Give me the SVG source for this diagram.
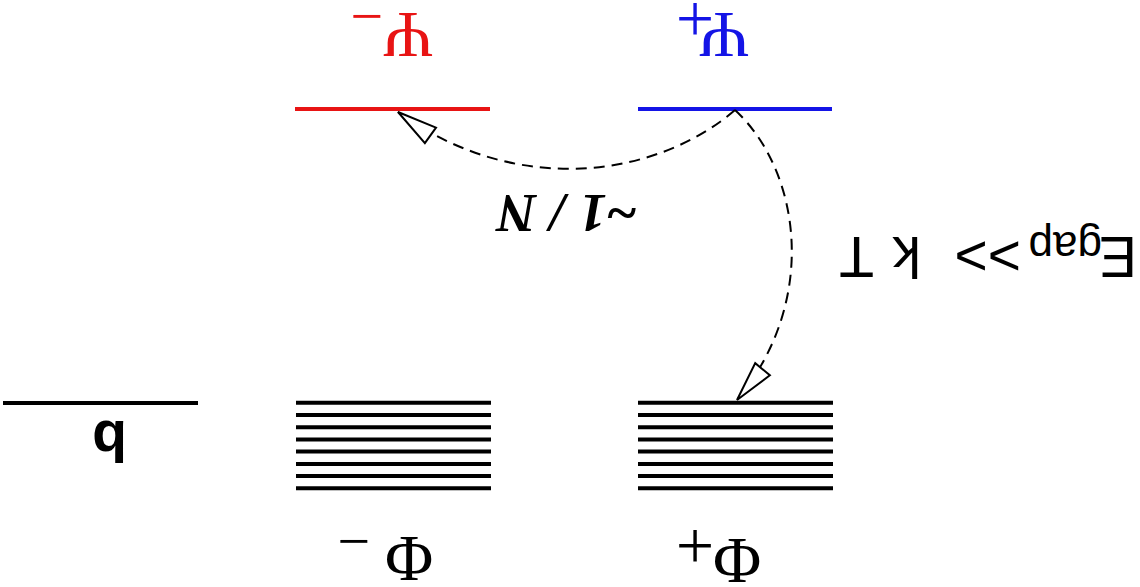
<svg xmlns="http://www.w3.org/2000/svg" width="1140" height="587" viewBox="0 0 1140 587">
<style>
.lvl{stroke-width:4;fill:none}
.blk{stroke:#000}
.red{stroke:#e81414}
.blue{stroke:#1414e6}
.serif{font-family:"Liberation Serif","Times New Roman",serif;text-anchor:middle}
.sans{font-family:"Liberation Sans",Arial,sans-serif}
.conn{fill:none;stroke:#000;stroke-width:2;stroke-dasharray:11 7}
</style>
<defs>
<marker id="open" viewBox="-43 -12 46 24" refX="0" refY="0" markerWidth="46" markerHeight="24" markerUnits="userSpaceOnUse" orient="auto">
<path d="M0,0 L-40,-9.5 L-40,9.5 Z" fill="#fff" stroke="#000" stroke-width="2" stroke-linejoin="miter"/>
</marker>
</defs>
<rect width="1140" height="587" fill="#fff"/>
<g transform="rotate(180 570 293.5)">
<g id="psi-minus">
<line class="lvl red" x1="650" y1="478" x2="845" y2="478"/>
<text class="serif" font-size="66" fill="#e81414" x="732" y="574">Ψ</text>
<text class="serif" font-size="58" fill="#e81414" x="773" y="590">−</text>
</g>
<g id="psi-plus">
<line class="lvl blue" x1="308" y1="478" x2="502" y2="478"/>
<text class="serif" font-size="66" fill="#1414e6" x="416" y="574">Ψ</text>
<text class="serif" font-size="68" fill="#1414e6" x="445" y="591">+</text>
</g>
<g id="phi-minus">
<g class="lvl blk">
<line x1="649" y1="98.7" x2="844" y2="98.7"/>
<line x1="649" y1="110.9" x2="844" y2="110.9"/>
<line x1="649" y1="123.1" x2="844" y2="123.1"/>
<line x1="649" y1="135.4" x2="844" y2="135.4"/>
<line x1="649" y1="147.6" x2="844" y2="147.6"/>
<line x1="649" y1="159.8" x2="844" y2="159.8"/>
<line x1="649" y1="172.1" x2="844" y2="172.1"/>
<line x1="649" y1="184.3" x2="844" y2="184.3"/>
</g>
<text class="serif" font-size="66" fill="#000" x="731" y="50">Φ</text>
<text class="serif" font-size="58" fill="#000" x="786" y="65">−</text>
</g>
<g id="phi-plus">
<g class="lvl blk">
<line x1="307" y1="98.7" x2="502" y2="98.7"/>
<line x1="307" y1="110.9" x2="502" y2="110.9"/>
<line x1="307" y1="123.1" x2="502" y2="123.1"/>
<line x1="307" y1="135.4" x2="502" y2="135.4"/>
<line x1="307" y1="147.6" x2="502" y2="147.6"/>
<line x1="307" y1="159.8" x2="502" y2="159.8"/>
<line x1="307" y1="172.1" x2="502" y2="172.1"/>
<line x1="307" y1="184.3" x2="502" y2="184.3"/>
</g>
<text class="serif" font-size="66" fill="#000" x="403" y="48">Φ</text>
<text class="serif" font-size="68" fill="#000" x="445" y="64">+</text>
</g>
<g id="b-level">
<line class="lvl blk" x1="942" y1="184" x2="1137" y2="184"/>
<text class="sans" font-size="57" font-weight="bold" fill="#000" x="1013" y="166">b</text>
</g>
<g id="connectors">
<path class="conn" d="M405,477 C480,412 620,387 742,475" marker-end="url(#open)"/>
<path class="conn" d="M405,477 C340,417 320,287 403,187" marker-end="url(#open)"/>
<text font-family="Liberation Serif, Times New Roman, serif" font-size="55" font-weight="bold" font-style="italic" fill="#000" x="502" y="392">~1 / N</text>
<text class="sans" font-size="57" fill="#000" y="350"><tspan x="3">E</tspan><tspan x="38" dy="5" font-size="44">gap</tspan><tspan x="119" dy="-5">&gt;&gt;</tspan><tspan x="219">k</tspan><tspan x="266">T</tspan></text>
</g>
</g>
</svg>
